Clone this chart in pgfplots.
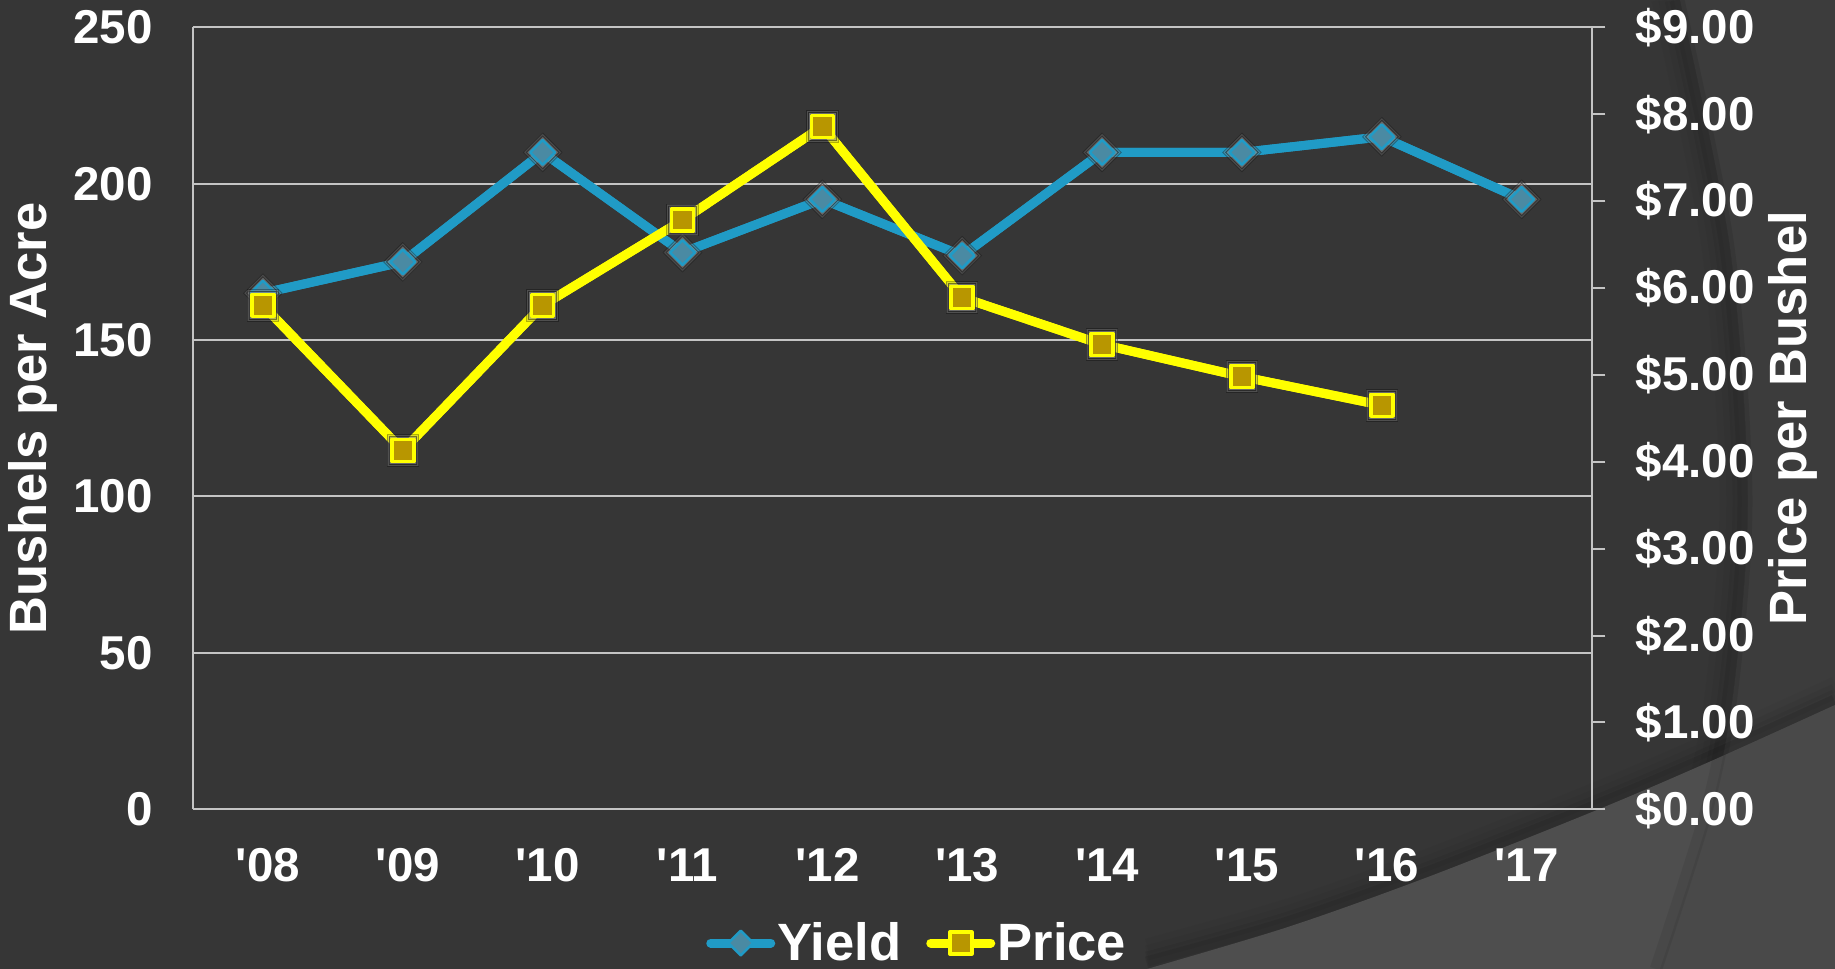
\documentclass[border=0pt]{standalone}
\usepackage{fontspec}
\setmainfont{Liberation Sans}
\usepackage{pgfplots}
\pgfplotsset{compat=1.18}
\definecolor{bgcol}{HTML}{363636}
\definecolor{arcregion}{HTML}{3C3C3C}
\definecolor{wedgecol}{HTML}{4E4E4E}
\definecolor{gridcol}{HTML}{C4C4C4}
\definecolor{yieldcol}{HTML}{209BC6}
\definecolor{diamfill}{HTML}{4A8AA3}
\definecolor{pricecol}{HTML}{FFFF00}
\definecolor{goldfill}{HTML}{B89600}
\definecolor{glowcol}{HTML}{8A8A8A}
\pgfplotsset{
  yieldstyle/.style={color=yieldcol, line width=3.6pt, line cap=round, line join=round,
    mark=square*, mark size=3.5pt,
    mark options={solid, rotate=45, fill=diamfill, draw=yieldcol, line width=1pt}},
  pricestyle/.style={color=pricecol, line width=3.6pt, line cap=round, line join=round,
    mark=square*, mark size=4.4pt,
    mark options={solid, fill=goldfill, draw=pricecol, line width=1.4pt}},
}
\pgfplotstableread{
x yield
0 165
1 175
2 210
3 178
4 195
5 177
6 210
7 210
8 215
9 195
}\yielddata
\pgfplotstableread{
x price
0 5.80
1 4.13
2 5.80
3 6.78
4 7.86
5 5.89
6 5.35
7 4.98
8 4.65
}\pricedata
\begin{document}
\begin{tikzpicture}
\begin{scope}[shift={(-77.2pt,323.72pt)}, x=0.4pt, y=-0.4pt]
  \fill[bgcol] (0,0) rectangle (1835,969);
  % region right of the large arc
  \fill[arcregion] plot[smooth] coordinates {(1680,0) (1730,247) (1748,494) (1735,680) (1712,805) (1660,969)} -- (1835,969) -- (1835,0) -- cycle;
  % soft shadow inside the arc
  \foreach \d/\op in {3/0.09,8/0.06,14/0.035,21/0.02}{
    \draw[black, opacity=\op, line width=6pt] plot[smooth] coordinates {(1680-\d,0) (1730-\d,247) (1748-\d,494) (1735-\d,680) (1712-\d,805) (1660-\d,969)};
  }
  % shadow above the edge of the lighter wedge
  \foreach \d/\op in {3/0.09,8/0.06,14/0.035,21/0.02}{
    \draw[black, opacity=\op, line width=6pt] plot[smooth] coordinates {(1147,967-\d) (1288,927-\d) (1428,877-\d) (1597,810-\d) (1709,762-\d) (1835,705-\d)};
  }
  \fill[wedgecol] plot[smooth] coordinates {(1147,969) (1288,927) (1428,877) (1597,810) (1709,762) (1835,705)} -- (1835,969) -- cycle;
  \begin{scope}
    \clip plot[smooth] coordinates {(1147,969) (1288,927) (1428,877) (1597,810) (1709,762) (1835,705)} -- (1835,969) -- cycle;
    \fill[black, opacity=0.06] plot[smooth] coordinates {(1680,0) (1730,247) (1748,494) (1735,680) (1712,805) (1660,969)} -- (1835,969) -- (1835,0) -- cycle;
    \draw[black, opacity=0.07, line width=5pt] plot[smooth] coordinates {(1676,0) (1726,247) (1744,494) (1731,680) (1708,805) (1656,969)};
  \end{scope}
\end{scope}
\begin{axis}[
  at={(0,0)}, anchor=south west, scale only axis,
  width=559.44pt, height=312.8pt,
  xmin=-0.5, xmax=9.5, ymin=0, ymax=250,
  xtick={0,...,9},
  xticklabels={\textquotesingle08,\textquotesingle09,\textquotesingle10,\textquotesingle11,\textquotesingle12,\textquotesingle13,\textquotesingle14,\textquotesingle15,\textquotesingle16,\textquotesingle17},
  ytick={0,50,...,250},
  axis y line*=left, axis x line*=bottom,
  x axis line style={draw=none},
  y axis line style={-, draw=gridcol, line width=0.8pt},
  ymajorgrids, grid style={gridcol, line width=0.8pt},
  major tick length=0pt, tick style={draw=none},
  /pgf/number format/assume math mode=true,
  ticklabel style={font=\bfseries\fontsize{19}{22}\selectfont, text=white, inner sep=0pt},
  yticklabel style={anchor=east, xshift=-16pt},
  xticklabel style={anchor=north, yshift=-15.5pt, xshift=2pt},
  ylabel={Bushels per Acre},
  ylabel style={at={(axis description cs:-0.1144,0.5)}, anchor=center, font=\bfseries\fontsize{21}{24}\selectfont, text=white},
]
\addplot[yieldstyle, mark=none, forget plot] table[x=x, y=yield] {\yielddata};
\addplot[forget plot, only marks, mark=square*, mark size=5.4pt, mark options={rotate=45, draw=none, fill=glowcol, opacity=0.3}] table[x=x, y=yield] {\yielddata};
\addplot[forget plot, only marks, mark=square*, mark size=4.6pt, mark options={rotate=45, draw=none, fill=glowcol, opacity=0.45}] table[x=x, y=yield] {\yielddata};
\addplot[yieldstyle] table[x=x, y=yield] {\yielddata};
\end{axis}
\begin{axis}[
  at={(0,0)}, anchor=south west, scale only axis,
  width=559.44pt, height=312.8pt,
  xmin=-0.5, xmax=9.5, ymin=0, ymax=9,
  axis x line=none, axis y line*=right,
  yticklabel pos=right,
  y axis line style={-, draw=gridcol, line width=0.8pt},
  ytick={0,...,9},
  yticklabels={\$0.00,\$1.00,\$2.00,\$3.00,\$4.00,\$5.00,\$6.00,\$7.00,\$8.00,\$9.00},
  tick align=outside, major tick length=5.5pt,
  ytick style={draw=gridcol, line width=0.8pt},
  yticklabel style={font=\bfseries\fontsize{19}{22}\selectfont, text=white, inner sep=0pt, anchor=west, xshift=12pt},
  ylabel={Price per Bushel},
  ylabel style={at={(axis description cs:1.144,0.5)}, anchor=center, font=\bfseries\fontsize{21}{24}\selectfont, text=white},
  legend columns=2,
  legend style={at={(0.518,-0.171)}, anchor=center, draw=none, fill=none, text=white,
    font=\bfseries\fontsize{21}{24}\selectfont, inner sep=0pt,
    nodes={inner sep=1pt},
    /tikz/every even column/.append style={column sep=9pt}},
  legend image code/.code={\draw[mark repeat=2, mark phase=2] plot coordinates {(0pt,0pt) (12pt,0pt) (24pt,0pt)};},
]
\addlegendimage{yieldstyle}
\addlegendentry{Yield}
\addplot[pricestyle, mark=none, forget plot] table[x=x, y=price] {\pricedata};
\addplot[forget plot, only marks, mark=square*, mark size=6.3pt, mark options={draw=none, fill=glowcol, opacity=0.3}] table[x=x, y=price] {\pricedata};
\addplot[forget plot, only marks, mark=square*, mark size=5.5pt, mark options={draw=none, fill=glowcol, opacity=0.45}] table[x=x, y=price] {\pricedata};
\addplot[pricestyle] table[x=x, y=price] {\pricedata};
\addlegendentry{Price}
\end{axis}
\pgfresetboundingbox
\useasboundingbox (-77.2pt,-63.88pt) rectangle (656.8pt,323.72pt);
\end{tikzpicture}
\end{document}
